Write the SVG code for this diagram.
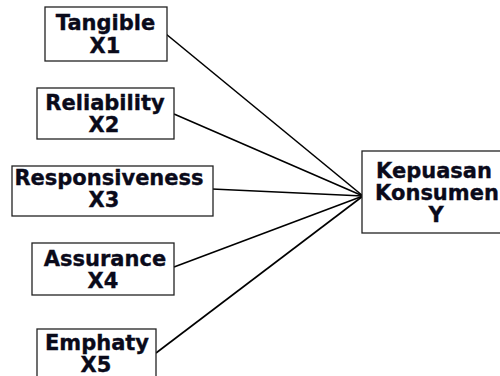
<svg xmlns="http://www.w3.org/2000/svg" width="500" height="376" viewBox="0 0 500 376">
<style>
.box{fill:#fff;stroke:#222;stroke-width:1.3}
.t{font-family:"DejaVu Sans",Verdana,sans-serif;font-weight:bold;font-size:21px;fill:#0a0a1a;stroke:#0a0a1a;stroke-width:0.35;text-anchor:middle}
.c{stroke:#000;stroke-width:1.6;fill:none}
</style>
<rect width="500" height="376" fill="#fff"/>
<g id="connectors">
<line class="c" x1="166" y1="34" x2="363" y2="196"/>
<line class="c" x1="174" y1="114" x2="363" y2="196"/>
<line class="c" x1="212" y1="189" x2="363" y2="196"/>
<line class="c" x1="174" y1="267" x2="363" y2="196"/>
<line class="c" x1="156" y1="353" x2="363" y2="196"/>
</g>
<g id="x1">
<rect class="box" x="45" y="7" width="122" height="54"/>
<text class="t" x="105.5" y="30">Tangible</text>
<text class="t" x="105" y="53">X1</text>
</g>
<g id="x2">
<rect class="box" x="37" y="88" width="137" height="51"/>
<text class="t" x="105" y="110">Reliability</text>
<text class="t" x="104" y="132">X2</text>
</g>
<g id="x3">
<rect class="box" x="12" y="166" width="201" height="50"/>
<text class="t" x="109" y="185">Responsiveness</text>
<text class="t" x="104" y="207">X3</text>
</g>
<g id="x4">
<rect class="box" x="32" y="243" width="142" height="52"/>
<text class="t" x="105" y="266">Assurance</text>
<text class="t" x="103" y="288">X4</text>
</g>
<g id="x5">
<rect class="box" x="37" y="329" width="119" height="60"/>
<text class="t" x="97" y="350">Emphaty</text>
<text class="t" x="96" y="372">X5</text>
</g>
<g id="y">
<rect class="box" x="362" y="151" width="150" height="82"/>
<text class="t" x="434" y="178">Kepuasan</text>
<text class="t" x="437" y="200">Konsumen</text>
<text class="t" x="436" y="222">Y</text>
</g>
</svg>
